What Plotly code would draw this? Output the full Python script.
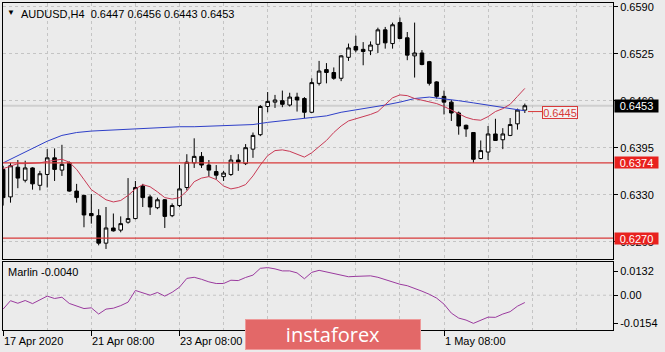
import plotly.graph_objects as go

# ---------------- data ----------------
bars = list(range(-12, 60))  # H4 bar index, 0 = 21 Apr 08:00
opens = [0.6365,0.6327,0.6368,0.6350,0.6367,0.6343,0.6358,0.6381,0.6364,0.6374,0.6335,0.6329,
         0.6304,0.6301,0.6263,0.6284,0.6281,0.6292,0.6297,0.6342,0.6327,0.6312,0.6323,0.6301,
         0.6315,0.6340,0.6374,0.6383,0.6371,0.6362,0.6355,0.6358,0.6378,0.6373,0.6393,0.6413,
         0.6452,0.6458,0.6460,0.6454,0.6465,0.6463,0.6444,0.6484,0.6503,0.6499,0.6491,0.6520,
         0.6535,0.6531,0.6529,0.6538,0.6558,0.6539,0.6568,0.6547,0.6522,0.6526,0.6514,0.6486,
         0.6466,0.6458,0.6443,0.6426,0.6416,0.6380,0.6389,0.6414,0.6406,0.6412,0.6428,0.6447]
highs = [0.6370,0.6374,0.6378,0.6377,0.6368,0.6363,0.6393,0.6394,0.6399,0.6376,0.6345,0.6330,
         0.6331,0.6310,0.6313,0.6304,0.6300,0.6353,0.6349,0.6345,0.6330,0.6326,0.6324,0.6318,
         0.6371,0.6386,0.6408,0.6389,0.6378,0.6371,0.6363,0.6385,0.6386,0.6400,0.6416,0.6454,
         0.6472,0.6468,0.6474,0.6471,0.6471,0.6465,0.6491,0.6515,0.6512,0.6506,0.6523,0.6539,
         0.6550,0.6541,0.6542,0.6561,0.6562,0.6568,0.6575,0.6555,0.6568,0.6530,0.6515,0.6487,
         0.6474,0.6461,0.6445,0.6427,0.6416,0.6405,0.6425,0.6435,0.6422,0.6436,0.6449,0.6456]
lows = [0.6315,0.6319,0.6339,0.6347,0.6337,0.6336,0.6340,0.6349,0.6356,0.6334,0.6319,0.6285,
        0.6290,0.6260,0.6255,0.6279,0.6278,0.6290,0.6296,0.6313,0.6302,0.6310,0.6284,0.6299,
        0.6313,0.6336,0.6367,0.6367,0.6355,0.6351,0.6349,0.6356,0.6363,0.6371,0.6381,0.6411,
        0.6444,0.6450,0.6451,0.6452,0.6445,0.6436,0.6443,0.6481,0.6484,0.6489,0.6487,0.6515,
        0.6527,0.6509,0.6523,0.6526,0.6532,0.6532,0.6545,0.6516,0.6492,0.6509,0.6481,0.6463,
        0.6441,0.6432,0.6413,0.6410,0.6374,0.6379,0.6378,0.6405,0.6393,0.6411,0.6420,0.6443]
closes = [0.6326,0.6370,0.6353,0.6367,0.6345,0.6359,0.6381,0.6365,0.6372,0.6335,0.6326,0.6302,
          0.6301,0.6263,0.6284,0.6280,0.6290,0.6297,0.6340,0.6326,0.6313,0.6323,0.6300,0.6315,
          0.6338,0.6375,0.6383,0.6371,0.6364,0.6357,0.6360,0.6378,0.6375,0.6395,0.6412,0.6452,
          0.6459,0.6461,0.6455,0.6465,0.6461,0.6444,0.6485,0.6501,0.6499,0.6491,0.6522,0.6533,
          0.6530,0.6528,0.6537,0.6558,0.6540,0.6565,0.6546,0.6523,0.6526,0.6510,0.6484,0.6466,
          0.6458,0.6443,0.6425,0.6421,0.6379,0.6391,0.6414,0.6405,0.6414,0.6427,0.6447,0.6453]

ma_fast_bars = bars
ma_fast = [0.6366,0.6370,0.6373,0.6373,0.6373,0.6374,0.6376,0.6377,0.6379,0.6375,0.6365,0.6351,
           0.6337,0.6330,0.6323,0.6320,0.6322,0.6329,0.6338,0.6344,0.6341,0.6334,0.6326,0.6324,
           0.6326,0.6335,0.6348,0.6353,0.6355,0.6351,0.6342,0.6338,0.6340,0.6344,0.6356,0.6371,
           0.6384,0.6391,0.6392,0.6390,0.6386,0.6382,0.6388,0.6397,0.6405,0.6416,0.6425,0.6432,
           0.6435,0.6437,0.6441,0.6445,0.6455,0.6464,0.6468,0.6467,0.6463,0.6461,0.6459,0.6456,
           0.6452,0.6447,0.6441,0.6437,0.6434,0.6433,0.6438,0.6445,0.6449,0.6455,0.6466,0.6477]

ma_slow_bars = [-12,-10,-8,-6,-4,-2,0,2,4,6,8,10,12,14,16,18,20,22,24,26,28,30,32,34,36,38,
                40,42,44,46,48,50,52,54,56,58,59]
ma_slow = [0.6374,0.6384,0.6394,0.6404,0.6412,0.6416,0.6418,0.6419,0.6420,0.6422,0.6423,0.6423,
           0.6424,0.6424,0.6425,0.6425,0.6426,0.6427,0.6430,0.6432,0.6435,0.6436,0.6439,0.6444,
           0.6447,0.6450,0.6454,0.6458,0.6463,0.6465,0.6463,0.6460,0.6457,0.6454,0.6451,0.6447,0.6446]

marlin = [-0.0076,-0.0030,-0.0044,-0.0029,-0.0046,-0.0027,-0.0005,-0.0018,-0.0011,-0.0045,-0.0057,-0.0073,
          -0.0069,-0.0103,-0.0076,-0.0071,-0.0057,-0.0038,0.0026,0.0014,0.0000,0.0015,-0.0005,0.0016,
          0.0044,0.0092,0.0098,0.0087,0.0073,0.0064,0.0064,0.0082,0.0080,0.0097,0.0110,0.0147,
          0.0151,0.0144,0.0133,0.0133,0.0122,0.0090,0.0125,0.0136,0.0128,0.0117,0.0109,0.0101,
          0.0103,0.0106,0.0106,0.0098,0.0084,0.0071,0.0060,0.0052,0.0038,0.0022,0.0005,-0.0016,
          -0.0049,-0.0098,-0.0125,-0.0136,-0.0154,-0.0136,-0.0120,-0.0121,-0.0103,-0.0090,-0.0060,-0.0040]

date_ticks = [-12, 0, 12, 24, 36, 48]
date_labels = ["17 Apr 2020", "21 Apr 08:00", "23 Apr 08:00", "", "", "1 May 08:00"]
grid_bars = list(range(-12, 72, 6))
price_ticks = [0.6590, 0.6525, 0.6460, 0.6395, 0.6330, 0.6265]
price_labels = ["0.6590", "0.6525", "0.6460", "0.6395", "0.6330", "0.6265"]
marlin_ticks = [0.0132, 0.0, -0.0154]
marlin_labels = ["0.0132", "0.00", "-0.0154"]
levels = [0.6374, 0.6270]
last_price = 0.6453
marker_price = 0.6445

# ---------------- style ----------------
BG = "#EBEBEB"
GRID = "#C4C4C4"
FONT = "Liberation Sans"
W, H = 665, 352
L, R, T, B = 3, 52, 1, 22
PW, PH = W - L - R, H - T - B

def py(pix):  # pixel row -> paper y
    return (H - B - pix) / PH

def px(pix):  # pixel column -> paper x
    return (pix - L) / PW

XR = [-12.02, 71.0]

fig = go.Figure()
fig.add_trace(go.Candlestick(
    x=bars, open=opens, high=highs, low=lows, close=closes,
    increasing=dict(line=dict(color="black", width=1), fillcolor="white"),
    decreasing=dict(line=dict(color="black", width=1), fillcolor="black"),
    whiskerwidth=0, xaxis="x", yaxis="y", showlegend=False, hoverinfo="skip"))
fig.add_trace(go.Scatter(x=ma_slow_bars, y=ma_slow, mode="lines",
                         line=dict(color="#2E3FC8", width=1), xaxis="x", yaxis="y", showlegend=False))
fig.add_trace(go.Scatter(x=ma_fast_bars, y=ma_fast, mode="lines",
                         line=dict(color="#C83A55", width=1), xaxis="x", yaxis="y", showlegend=False))
fig.add_trace(go.Scatter(x=bars, y=marlin, mode="lines",
                         line=dict(color="#9A3A9E", width=1), xaxis="x2", yaxis="y2", showlegend=False))

main_bottom = py(259)
sub_top = py(262)

fig.update_layout(
    width=W, height=H, margin=dict(l=L, r=R, t=T, b=B),
    paper_bgcolor=BG, plot_bgcolor=BG,
    font=dict(family=FONT, size=11, color="black"),
    xaxis=dict(domain=[0, 1], range=XR, anchor="y", showticklabels=False, ticks="",
               tickvals=grid_bars, showgrid=True, gridcolor=GRID, griddash="3px,3px", gridwidth=1,
               showline=True, mirror=True, linecolor="black", linewidth=1, zeroline=False,
               rangeslider=dict(visible=False)),
    yaxis=dict(domain=[main_bottom, 1], range=[0.62405, 0.65951], side="right",
               tickvals=price_ticks, ticktext=price_labels, ticks="outside", ticklen=4,
               tickcolor="black", showgrid=True, gridcolor=GRID, griddash="3px,3px",
               ticklabeloverflow="allow",
               showline=True, mirror=True, linecolor="black", linewidth=1, zeroline=False),
    xaxis2=dict(domain=[0, 1], range=XR, anchor="y2", showticklabels=False,
                tickvals=date_ticks, ticks="outside", ticklen=5, tickcolor="black",
                showgrid=True, gridcolor=GRID, griddash="3px,3px",
                minor=dict(tickvals=[v for v in grid_bars if v not in date_ticks], showgrid=True,
                           gridcolor=GRID, griddash="3px,3px", ticks=""),
                showline=True, mirror=True, linecolor="black", linewidth=1, zeroline=False),
    yaxis2=dict(domain=[0, sub_top], range=[-0.01903, 0.01794], side="right", anchor="x2",
                tickvals=marlin_ticks, ticktext=marlin_labels, ticks="outside", ticklen=4,
                tickcolor="black", showgrid=False,
                showline=True, mirror=True, linecolor="black", linewidth=1, zeroline=False),
)

shapes = []
shapes.append(dict(type="line", xref="x2 domain", x0=0, x1=1, yref="y2", y0=0, y1=0,
                   line=dict(color=GRID, width=1, dash="3px,3px"), layer="below"))
shapes.append(dict(type="line", xref="x domain", x0=0, x1=1, yref="y", y0=last_price, y1=last_price,
                   line=dict(color="#CFCFCF", width=2), layer="below"))
for lv in levels:
    shapes.append(dict(type="line", xref="x domain", x0=0, x1=1, yref="y", y0=lv, y1=lv,
                       line=dict(color="#D83A3A", width=1.2)))
shapes.append(dict(type="line", xref="paper", x0=px(528), x1=px(542), yref="y",
                   y0=marker_price, y1=marker_price, line=dict(color="#D83A3A", width=1)))
fig.update_layout(shapes=shapes)

ann = []
ann.append(dict(text="▼", xref="paper", yref="paper", x=px(10.5), y=py(11), showarrow=False,
                font=dict(size=8, color="black"), xanchor="center", yanchor="middle"))
ann.append(dict(text="AUDUSD,H4  0.6447 0.6456 0.6443 0.6453", xref="paper", yref="paper",
                x=px(19), y=py(12), showarrow=False, xanchor="left", yanchor="middle",
                font=dict(size=11, color="black")))
ann.append(dict(text="Marlin -0.0040", xref="paper", yref="paper", x=px(6), y=py(272),
                showarrow=False, xanchor="left", yanchor="middle", font=dict(size=11, color="black")))
for t, lab in zip(date_ticks, date_labels):
    if lab:
        ann.append(dict(text=lab, xref="x2", yref="paper", x=t, y=py(341), showarrow=False,
                        xanchor="left", yanchor="middle", xshift=-1, font=dict(size=11, color="black")))
for lv in levels:
    ann.append(dict(text=f"{lv:.4f}", xref="paper", yref="y", x=1, y=lv, showarrow=False,
                    xanchor="left", yanchor="middle", width=43, height=11, bgcolor="#E8211E",
                    borderpad=0, font=dict(size=11, color="white"), align="center", xshift=1))
ann.append(dict(text=f"{last_price:.4f}", xref="paper", yref="y", x=1, y=last_price, showarrow=False,
                xanchor="left", yanchor="middle", width=43, height=12, bgcolor="black",
                borderpad=0, font=dict(size=11, color="white"), align="center", xshift=1))
ann.append(dict(text=f"{marker_price:.4f}", xref="paper", yref="y", x=px(542), y=marker_price,
                showarrow=False, xanchor="left", yanchor="middle", width=34, height=11,
                bgcolor="#F2F2F2", bordercolor="#D83A3A", borderwidth=1, borderpad=0,
                font=dict(size=11, color="#D83A3A"), align="center", yshift=-1))
ann.append(dict(text="instaforex", xref="paper", yref="paper", x=px(333), y=py(335),
                showarrow=False, xanchor="center", yanchor="middle", width=174, height=29,
                bgcolor="#E36868", bordercolor="#EE9A9A", borderwidth=1, borderpad=0,
                font=dict(family="Open Sans", size=20, color="white"), align="center"))
fig.update_layout(annotations=ann)

fig.write_html("out.html")
